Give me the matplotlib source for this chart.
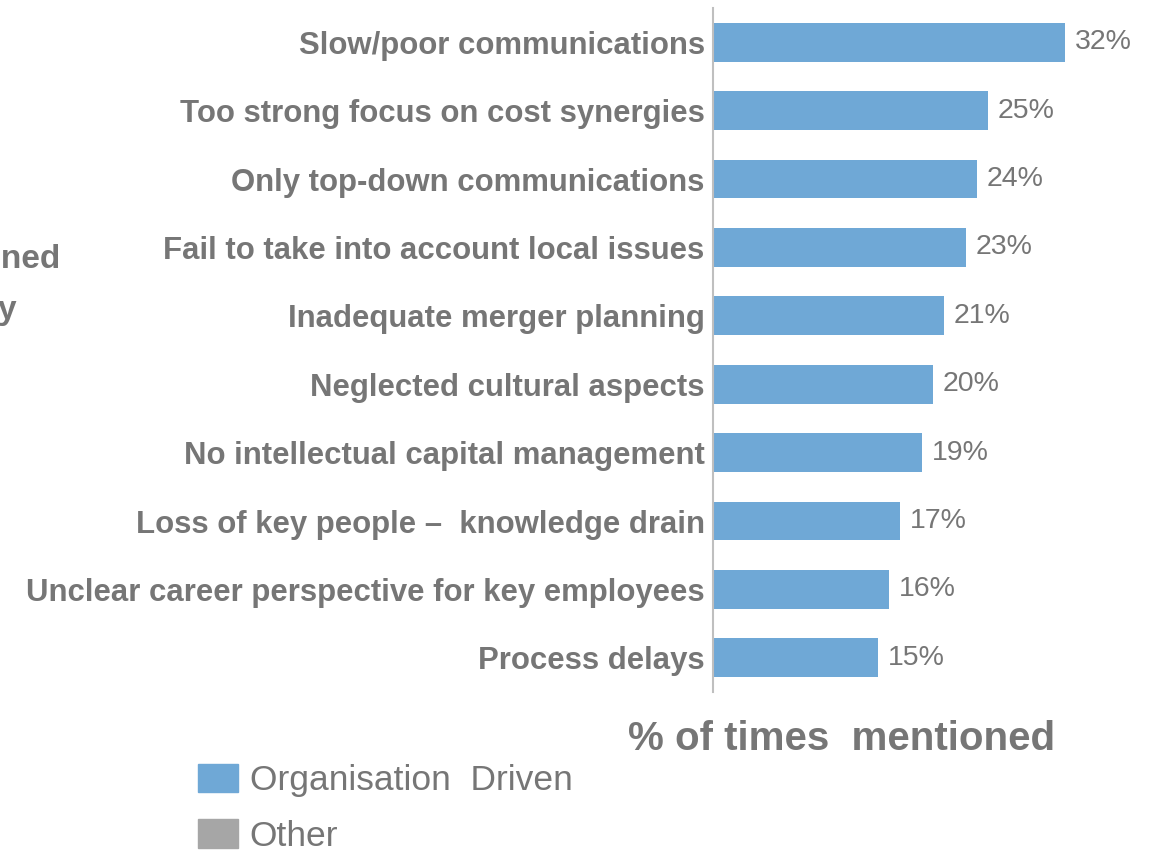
import matplotlib.pyplot as plt
from matplotlib.patches import Patch

reasons = ['Slow/poor communications',
           'Too strong focus on cost synergies',
           'Only top-down communications',
           'Fail to take into account local issues',
           'Inadequate merger planning',
           'Neglected cultural aspects',
           'No intellectual capital management',
           'Loss of key people \u2013  knowledge drain',
           'Unclear career perspective for key employees',
           'Process delays']
share = [32, 25, 24, 23, 21, 20, 19, 17, 16, 15]
legend_labels = ['Organisation  Driven', 'Other']

blue = '#6fa8d6'
grey_box = '#a6a6a6'
txt = '#767676'

plt.rcParams['font.family'] = ['Liberation Sans', 'DejaVu Sans']

fig = plt.figure(figsize=(11.53, 8.55), dpi=100)
ax = fig.add_axes([713 / 1153, 1 - 692 / 855, 440 / 1153, 684 / 855])

y = range(len(reasons))
ax.barh(y, share, height=0.57, color=blue)
ax.set_ylim(len(reasons) - 0.5, -0.5)
ax.set_xlim(0, 40)

for i, v in enumerate(share):
    ax.text(v + 0.9, i, f'{v}%', va='center', ha='left', fontsize=20.5, color=txt)

ax.set_yticks(list(y))
ax.set_yticklabels(reasons, fontsize=22.4, fontweight='bold', color=txt)
ax.tick_params(axis='y', length=0, pad=6)
ax.set_xticks([])
for s in ['top', 'right', 'bottom']:
    ax.spines[s].set_visible(False)
ax.spines['left'].set_color('#bfbfbf')
ax.spines['left'].set_linewidth(1.5)

fig.text(842 / 1153, 1 - 739 / 855, '% of times  mentioned', ha='center', va='center',
         fontsize=29, fontweight='bold', color=txt)

# left title, cut off by the figure edge as in the source slide
fig.text(60 / 1153, 1 - 260 / 855, 'Most mentioned', ha='right', va='center',
         fontsize=24, fontweight='bold', color=txt)
fig.text(17 / 1153, 1 - 310 / 855, 'problems by', ha='right', va='center',
         fontsize=24, fontweight='bold', color=txt)

handles = [Patch(color=blue), Patch(color=grey_box)]
fig.legend(handles, legend_labels, loc='upper left', bbox_to_anchor=(198 / 1153, 1 - 764 / 855),
           frameon=False, fontsize=25.5, labelcolor=txt, handlelength=1.13, handleheight=0.86,
           handletextpad=0.33, labelspacing=0.62, borderpad=0, borderaxespad=0)

fig.savefig('out.png', dpi=100)
